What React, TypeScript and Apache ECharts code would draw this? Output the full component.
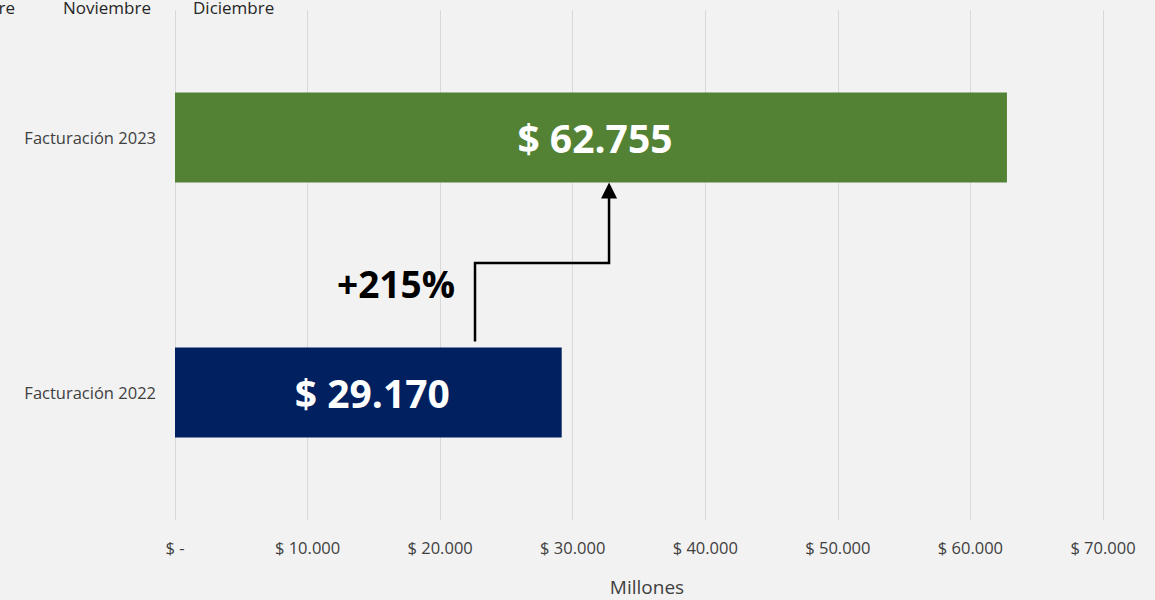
import React, { useEffect, useRef } from "react";
import * as echarts from "echarts";

const categories = ["Facturación 2022", "Facturación 2023"];
const values = [29170, 62755];
const barColors = ["#002060", "#548235"];
const barLabels = ["$ 29.170", "$ 62.755"];
const xMax = 70000;
const xInterval = 10000;
const growthLabel = "+215%";
const axisName = "Millones";
const leftoverMonths = ["re", "Noviembre", "Diciembre"];
// arrow anchor points in data units
const arrowStartX = 22630;
const arrowEndX = 32740;

function fmt(v: number): string {
  if (v === 0) return "$ -";
  return "$ " + String(v).replace(/\B(?=(\d{3})+(?!\d))/g, ".");
}

export default function App() {
  const ref = useRef<HTMLDivElement>(null);
  useEffect(() => {
    const chart = echarts.init(ref.current!, null, { renderer: "svg" });
    const font = "'Open Sans', 'Noto Sans', sans-serif";
    chart.setOption({
      animation: false,
      backgroundColor: "#f2f2f2",
      grid: { left: 175, right: 52, top: 10, bottom: 80, containLabel: false },
      xAxis: {
        type: "value",
        min: 0,
        max: xMax,
        interval: xInterval,
        axisLine: { show: false },
        axisTick: { show: false },
        splitLine: { show: true, lineStyle: { color: "#d9d9d9", width: 1 } },
        axisLabel: {
          formatter: (v: number) => fmt(v),
          color: "#404040",
          fontFamily: font,
          fontSize: 16.5,
          margin: 19,
        },
      },
      yAxis: {
        type: "category",
        data: categories,
        axisLine: { show: false },
        axisTick: { show: false },
        splitLine: { show: false },
        axisLabel: {
          color: "#404040",
          fontFamily: font,
          fontSize: 16.5,
          margin: 19,
        },
      },
      series: [
        {
          type: "bar",
          barWidth: 90,
          data: values.map((v, i) => ({
            value: v,
            itemStyle: { color: barColors[i] },
            label: {
              show: true,
              position: "inside",
              offset: [4, 0],
              formatter: barLabels[i],
              color: "#ffffff",
              fontFamily: font,
              fontWeight: "bold",
              fontSize: 39,
            },
          })),
        },
      ],
    });

    const p2022 = chart.convertToPixel({ gridIndex: 0 }, [arrowStartX, 0]) as number[];
    const p2023 = chart.convertToPixel({ gridIndex: 0 }, [arrowEndX, 1]) as number[];
    const xStart = p2022[0];
    const xEnd = p2023[0];
    const yStart = p2022[1] - 51;
    const yTip = p2023[1] + 45;
    const yMid = 263;

    chart.setOption({
      graphic: [
        {
          type: "polyline",
          shape: {
            points: [
              [xStart, yStart],
              [xStart, yMid],
              [xEnd, yMid],
              [xEnd, yTip + 14],
            ],
          },
          style: { stroke: "#000000", lineWidth: 2.5, fill: null },
        },
        {
          type: "polygon",
          shape: {
            points: [
              [xEnd, yTip],
              [xEnd - 8, yTip + 16],
              [xEnd + 8, yTip + 16],
            ],
          },
          style: { fill: "#000000" },
        },
        {
          type: "text",
          x: 455,
          y: 283,
          style: {
            text: growthLabel,
            fill: "#000000",
            font: `bold 37px ${font}`,
            textAlign: "right",
            textVerticalAlign: "middle",
          },
        },
        {
          type: "text",
          x: 647,
          y: 587,
          style: {
            text: axisName,
            fill: "#404040",
            font: `19px ${font}`,
            textAlign: "center",
            textVerticalAlign: "middle",
          },
        },
        {
          type: "text",
          x: 15,
          y: 7,
          style: { text: leftoverMonths[0], fill: "#262626", font: `17px ${font}`, textAlign: "right", textVerticalAlign: "middle" },
        },
        {
          type: "text",
          x: 63,
          y: 7,
          style: { text: leftoverMonths[1], fill: "#262626", font: `17px ${font}`, textAlign: "left", textVerticalAlign: "middle" },
        },
        {
          type: "text",
          x: 193,
          y: 7,
          style: { text: leftoverMonths[2], fill: "#262626", font: `17px ${font}`, textAlign: "left", textVerticalAlign: "middle" },
        },
      ],
    });

    return () => chart.dispose();
  }, []);
  return (
    <div
      ref={ref}
      style={{ position: "fixed", left: 0, top: 0, width: 1155, height: 600 }}
    />
  );
}
